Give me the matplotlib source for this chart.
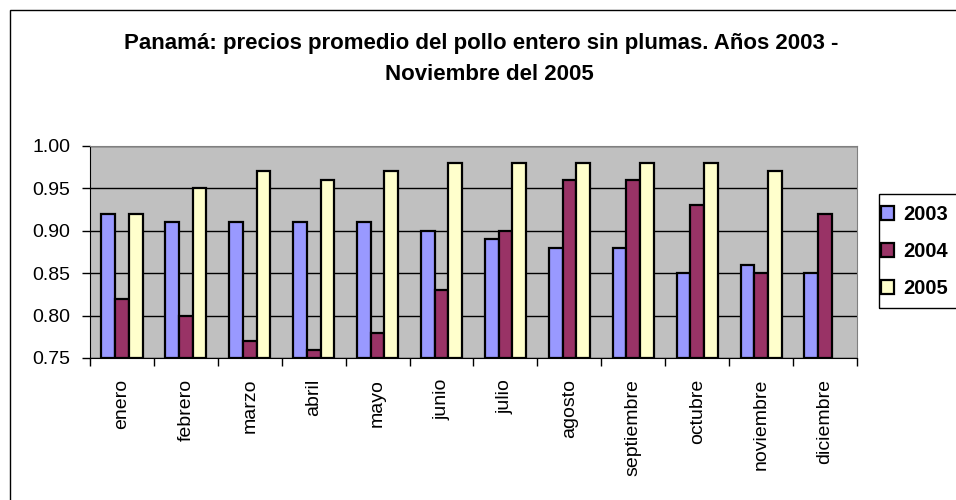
import matplotlib.pyplot as plt
import numpy as np
from matplotlib.patches import Rectangle

plt.rcParams['font.family'] = ['Liberation Sans', 'DejaVu Sans']

meses = ['enero', 'febrero', 'marzo', 'abril', 'mayo', 'junio', 'julio',
         'agosto', 'septiembre', 'octubre', 'noviembre', 'diciembre']
y2003 = [0.92, 0.91, 0.91, 0.91, 0.91, 0.90, 0.89, 0.88, 0.88, 0.85, 0.86, 0.85]
y2004 = [0.82, 0.80, 0.77, 0.76, 0.78, 0.83, 0.90, 0.96, 0.96, 0.93, 0.85, 0.92]
y2005 = [0.92, 0.95, 0.97, 0.96, 0.97, 0.98, 0.98, 0.98, 0.98, 0.98, 0.97, np.nan]
anios = ['2003', '2004', '2005']
colores = ['#9999FF', '#993366', '#FFFFCC']

fig = plt.figure(figsize=(9.56, 5.0), dpi=100)
# marco exterior del grafico
fig.patches.append(Rectangle((10 / 956, -0.1), 1.2, 1.1 - 10 / 500, transform=fig.transFigure,
                             fill=False, edgecolor='black', linewidth=1))
# marco de la leyenda (se sale por la derecha, como en el original)
fig.patches.append(Rectangle((879 / 956, 1 - 308 / 500), 0.2, 114 / 500, transform=fig.transFigure,
                             fill=False, edgecolor='black', linewidth=1))

ax = fig.add_axes([90 / 956, 1 - 358 / 500, (857 - 90) / 956, (358 - 146) / 500])
ax.set_facecolor('#C0C0C0')

x = np.arange(len(meses))
w = 0.215
for i, (serie, col, lab) in enumerate(zip([y2003, y2004, y2005], colores, anios)):
    ax.bar(x + (i - 1) * w, np.array(serie) - 0.75, w, bottom=0.75, color=col,
           edgecolor='black', linewidth=1.6, label=lab, zorder=3)

ax.set_xlim(-0.5, len(meses) - 0.5)
ax.set_ylim(0.75, 1.00)
ax.set_yticks([0.75, 0.80, 0.85, 0.90, 0.95, 1.00])
ax.set_yticklabels(['0.75', '0.80', '0.85', '0.90', '0.95', '1.00'], fontsize=14)
ax.yaxis.grid(True, color='black', linewidth=1)
ax.set_axisbelow(True)

ax.set_xticks(x)
ax.set_xticklabels(meses, rotation=90, fontsize=14)
ax.tick_params(axis='x', length=0, pad=15)
ax.set_xticks(np.arange(-0.5, len(meses)), minor=True)
ax.tick_params(axis='x', which='minor', length=6, width=1, direction='out')
ax.tick_params(axis='y', length=6, width=1, direction='out', pad=8)

for s in ['top', 'right']:
    ax.spines[s].set_color('#808080')
for s in ['left', 'bottom']:
    ax.spines[s].set_color('black')

fig.text(481 / 956, 1 - 44 / 500, 'Panamá: precios promedio del pollo entero sin plumas. Años 2003 -',
         ha='center', va='center', fontsize=16, fontweight='bold')
fig.text(489 / 956, 1 - 75 / 500, 'Noviembre del 2005',
         ha='center', va='center', fontsize=16, fontweight='bold')

leg = fig.legend(loc='upper left', bbox_to_anchor=(881 / 956, 1 - 205 / 500),
                 prop={'weight': 'bold', 'size': 14.5}, frameon=False,
                 handlelength=0.65, handleheight=0.65, handletextpad=0.45,
                 labelspacing=0.9, borderpad=0, borderaxespad=0)

plt.savefig('out.png', dpi=100)
